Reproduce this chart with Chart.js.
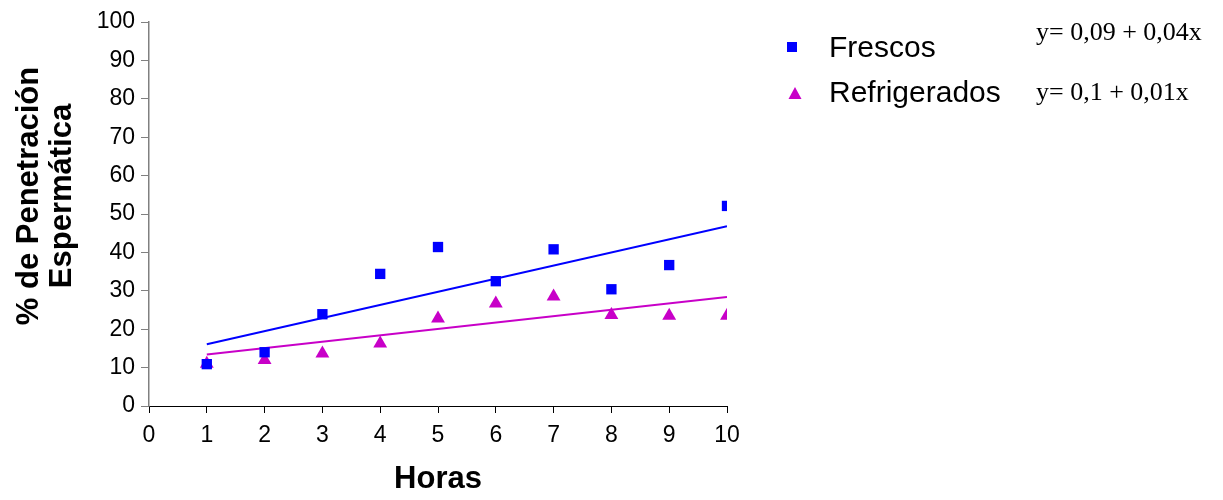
<!DOCTYPE html>
<html>
<head>
<meta charset="utf-8">
<script src="https://cdn.jsdelivr.net/npm/chart.js@4/dist/chart.umd.min.js"></script>
<style>
    html, body { margin: 0; padding: 0; background: #fff; }
    #wrap { width: 1223px; height: 500px; position: relative; }
</style>
</head>
<body>
<div id="wrap"><canvas id="grafico"></canvas></div>
<script>
// Datos
const horas = [1, 2, 3, 4, 5, 6, 7, 8, 9, 10];
const frescos = [10.9, 14.0, 23.9, 34.4, 41.4, 32.5, 40.8, 30.4, 36.7, 52.1];
const refrigerados = [11.0, 12.0, 13.7, 16.3, 22.8, 26.7, 28.5, 23.7, 23.5, 23.5];

// Rectas de tendencia (extremos en x=1 y x=10)
const tendX = [1, 10];
const tendFrescos = [16.1, 46.8];
const tendRefrig = [13.4, 28.4];

const ecuaciones = ['y= 0,09 + 0,04x', 'y= 0,1 + 0,01x'];
const nombres = ['Frescos', 'Refrigerados'];
const tituloY = ['% de Penetración', 'Espermática'];

const AZUL = '#0000FF';
const MAGENTA = '#C800C8';
const SANS = '"Liberation Sans", Arial, sans-serif';
const SERIF = '"Liberation Serif", "Times New Roman", serif';

function pares(xs, ys) {
    return xs.map((x, i) => ({ x, y: ys[i] }));
}

// Leyenda, ecuaciones y título del eje Y
const leyendaPlugin = {
    id: 'leyendaPlugin',
    afterDraw(chart) {
        const ctx = chart.ctx;
        ctx.save();
        // marcadores
        ctx.fillStyle = AZUL;
        ctx.fillRect(787, 42, 10, 10);
        ctx.fillStyle = MAGENTA;
        ctx.beginPath();
        ctx.moveTo(795, 87);
        ctx.lineTo(801.5, 99);
        ctx.lineTo(788.5, 99);
        ctx.closePath();
        ctx.fill();

        ctx.fillStyle = '#000';
        ctx.textBaseline = 'alphabetic';
        ctx.font = '30px ' + SANS;
        ctx.fillText(nombres[0], 829, 57);
        ctx.fillText(nombres[1], 829, 102);

        ctx.font = '26px ' + SERIF;
        ctx.fillText(ecuaciones[0], 1036, 40);
        ctx.fillText(ecuaciones[1], 1036, 100);

        // título Y en dos líneas, girado
        ctx.translate(0, 196);
        ctx.rotate(-Math.PI / 2);
        ctx.textAlign = 'center';
        ctx.textBaseline = 'middle';
        ctx.font = 'bold 31px ' + SANS;
        ctx.fillText(tituloY[0], 0, 29);
        ctx.fillText(tituloY[1], 0, 62);
        ctx.restore();
    }
};

document.addEventListener('DOMContentLoaded', () => {
    const ctx = document.getElementById('grafico').getContext('2d');

    new Chart(ctx, {
        type: 'scatter',
        data: {
            datasets: [
                {
                    label: 'Tendencia Frescos',
                    data: pares(tendX, tendFrescos),
                    showLine: true,
                    borderColor: AZUL,
                    borderWidth: 2,
                    pointRadius: 0,
                    order: 3
                },
                {
                    label: 'Tendencia Refrigerados',
                    data: pares(tendX, tendRefrig),
                    showLine: true,
                    borderColor: MAGENTA,
                    borderWidth: 2,
                    pointRadius: 0,
                    order: 4
                },
                {
                    label: 'Refrigerados',
                    data: pares(horas, refrigerados),
                    pointStyle: 'triangle',
                    pointRadius: 8,
                    backgroundColor: MAGENTA,
                    borderColor: MAGENTA,
                    borderWidth: 0,
                    order: 2
                },
                {
                    label: 'Frescos',
                    data: pares(horas, frescos),
                    pointStyle: 'rect',
                    pointRadius: 7.3,
                    backgroundColor: AZUL,
                    borderColor: AZUL,
                    borderWidth: 0,
                    order: 1
                }
            ]
        },
        options: {
            responsive: true,
            maintainAspectRatio: false,
            animation: false,
            layout: { padding: { left: 0, top: 22, right: 496, bottom: 0 } },
            plugins: {
                legend: { display: false },
                tooltip: { enabled: false }
            },
            scales: {
                x: {
                    type: 'linear',
                    min: 0,
                    max: 10,
                    afterFit: s => { s.height = 94; },
                    ticks: {
                        stepSize: 1,
                        color: '#000',
                        padding: 9,
                        font: { family: SANS, size: 23 }
                    },
                    grid: {
                        drawOnChartArea: false,
                        drawTicks: true,
                        tickLength: 7,
                        color: '#000'
                    },
                    border: { color: '#000', width: 1 },
                    title: {
                        display: true,
                        text: 'Horas',
                        color: '#000',
                        padding: { top: 0, bottom: 3 },
                        font: { family: SANS, size: 31, weight: 'bold', lineHeight: 1.1 }
                    }
                },
                y: {
                    min: 0,
                    max: 100,
                    afterFit: s => { s.width = 149; },
                    ticks: {
                        stepSize: 10,
                        color: '#000',
                        padding: 6,
                        font: { family: SANS, size: 23 }
                    },
                    grid: {
                        drawOnChartArea: false,
                        drawTicks: true,
                        tickLength: 8,
                        color: '#808080'
                    },
                    border: { color: '#808080', width: 1.5 },
                    title: { display: false }
                }
            }
        },
        plugins: [leyendaPlugin]
    });
});
</script>
</body>
</html>
